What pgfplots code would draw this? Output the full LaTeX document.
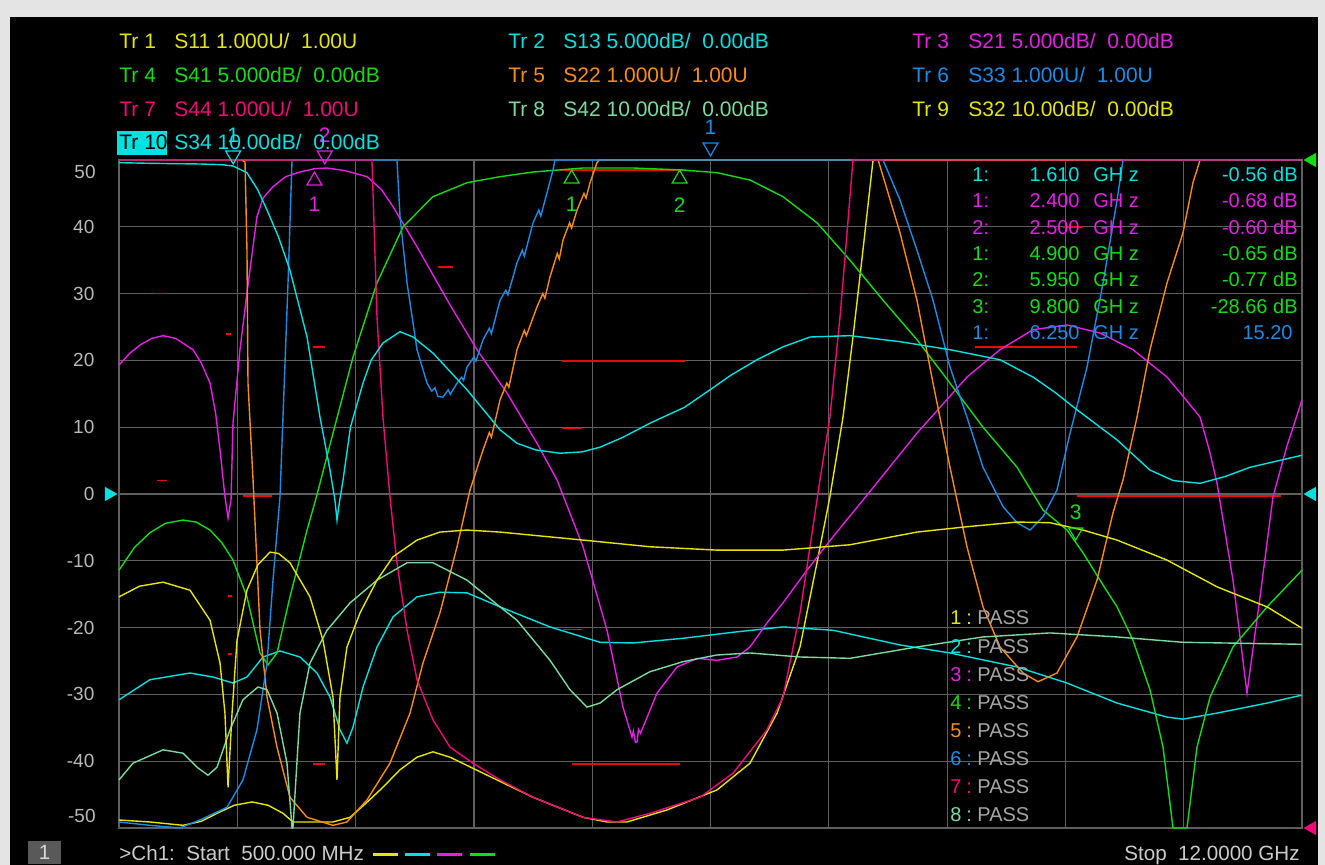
\documentclass[border=0pt]{standalone}
\usepackage{pgfplots}
\pgfplotsset{compat=1.18}
\usepackage{fontspec}
\setmainfont{Liberation Sans}
\definecolor{trY}{RGB}{230,230,0}
\definecolor{trC}{RGB}{0,225,225}
\definecolor{trM}{RGB}{230,30,230}
\definecolor{trG}{RGB}{20,220,20}
\definecolor{trO}{RGB}{250,140,20}
\definecolor{trB}{RGB}{25,140,230}
\definecolor{trP}{RGB}{240,10,120}
\definecolor{trL}{RGB}{120,220,160}
\definecolor{gridc}{RGB}{95,95,95}
\definecolor{ticktxt}{RGB}{185,185,185}
\definecolor{passtxt}{RGB}{165,165,165}
\definecolor{limred}{RGB}{235,10,10}
\definecolor{winbg}{RGB}{228,228,228}
\newcommand{\fs}[1]{\fontsize{#1}{#1}\selectfont}
\begin{document}
\begin{tikzpicture}
\path[use as bounding box] (0,0) rectangle (662.5pt,432.5pt);
\fill[winbg] (0,0) rectangle (662.5pt,432.5pt);
\fill[black] (5pt,0pt) rectangle (659pt,424pt);
\begin{axis}[
  at={(59.5pt,18.5pt)}, anchor=south west,
  scale only axis, width=591.5pt, height=334pt,
  xmin=0.5, xmax=12, ymin=-50, ymax=50,
  xtick={0.5,1.65,2.8,3.95,5.1,6.25,7.4,8.55,9.7,10.85,12},
  xticklabels={},
  ytick={-50,-40,-30,-20,-10,0,10,20,30,40,50},
  yticklabels={,-40,-30,-20,-10,0,10,20,30,40,},
  yticklabel style={text=ticktxt, font=\fs{9.5}, xshift=-8.8pt},
  major tick length=0pt,
  grid=major, major grid style={draw=gridc, line width=0.6pt},
  axis line style={draw=gridc, line width=0.7pt},
  clip=false,
  every axis plot/.append style={line width=0.7pt},
]
% limit lines
\addplot[limred, line width=0.85pt, unbounded coords=jump] coordinates {
 (0.85,30)(0.97,30) (1,nan) (1.54,24)(1.59,24) (1,nan) (2.39,22)(2.50,22) (1,nan)
 (3.60,34)(3.75,34) (1,nan) (0.87,2)(0.97,2) (1,nan) (1.71,-0.3)(1.99,-0.3) (1,nan)
 (1.56,-15.3)(1.60,-15.3) (1,nan) (1.56,-24)(1.60,-24) (1,nan) (2.39,-40.4)(2.50,-40.4) (1,nan)
 (4.79,48.5)(5.98,48.5) (1,nan) (7.20,30)(7.51,30) (1,nan) (4.81,19.9)(6.0,19.9) (1,nan)
 (4.81,9.8)(5.0,9.8) (1,nan) (4.82,-20.3)(5.0,-20.3) (1,nan) (4.90,-40.4)(5.95,-40.4) (1,nan)
 (8.82,22)(9.81,22) (1,nan) (9.81,-0.3)(11.8,-0.3) (1,nan) (9.68,40)(9.87,40)};
% Tr1 S11
\addplot[trY] coordinates {(0.5,-48.8)(0.80,-49.1)(1.122,-49.6)(1.30,-49.0)(1.453,-47.8)(1.62,-46.6)(1.793,-46.1)(1.95,-46.6)(2.094,-47.8)(2.191,-49.1)(2.580,-49.1)(2.746,-48.4)(2.90,-46.3)(3.066,-43.9)(3.23,-41.3)(3.397,-39.4)(3.552,-38.6)(3.718,-39.4)(4.039,-41.8)(4.525,-45.4)(5.011,-48.4)(5.244,-49.1)(5.438,-49.1)(5.827,-47.3)(6.313,-44.3)(6.634,-40.3)(6.897,-32.8)(7.120,-22.9)(7.285,-10.3)(7.411,-0.4)(7.538,11.5)(7.635,23.5)(7.732,36.5)(7.830,50)(12,50)};
% Tr2 S13
\addplot[trC] coordinates {(0.5,-30.8)(0.801,-27.8)(1.190,-26.8)(1.414,-27.4)(1.608,-28.3)(1.744,-27.4)(1.900,-24.4)(2.065,-23.5)(2.259,-24.4)(2.425,-26.8)(2.551,-30.4)(2.648,-35.3)(2.716,-37.3)(2.775,-34.9)(2.872,-28.9)(3.008,-22.9)(3.164,-18.4)(3.397,-15.4)(3.620,-14.7)(3.883,-14.8)(4.204,-16.9)(4.690,-19.9)(5.176,-22.2)(5.497,-22.3)(5.983,-21.6)(6.469,-20.7)(6.955,-19.9)(7.441,-20.4)(8.092,-22.6)(8.578,-23.8)(9.230,-25.9)(9.716,-28.3)(10.202,-31.3)(10.688,-33.4)(10.843,-33.7)(11.174,-32.8)(11.660,-31.3)(12.0,-30.1)};
% Tr3 S21
\addplot[trM] coordinates {(0.5,19.3)(0.60,21.0)(0.704,22.3)(0.82,23.3)(0.928,23.7)(1.05,23.3)(1.219,21.6)(1.30,19.6)(1.385,16.6)(1.44,12.0)(1.482,6.6)(1.510,2.5)(1.530,-0.4)(1.560,-3.6)(1.589,-0.9)(1.608,10.6)(1.676,21.6)(1.744,30.1)(1.841,41.5)(1.90,44.3)(1.997,46.0)(2.12,47.5)(2.259,48.2)(2.40,48.7)(2.522,48.8)(2.70,48.4)(2.911,47.5)(3.05,45.6)(3.164,43.0)(3.397,37.0)(3.718,28.3)(3.980,21.6)(4.272,15.1)(4.563,7.6)(4.758,2.1)(5.011,-7.9)(5.244,-20.4)(5.399,-31.9)(5.487,-36.4)(5.50,-35.5)(5.52,-37.2)(5.536,-37.1)(5.55,-35.2)(5.57,-35.8)(5.594,-34.9)(5.730,-29.8)(5.924,-25.9)(6.119,-24.6)(6.313,-24.9)(6.508,-24.4)(6.634,-22.9)(6.799,-19.3)(6.955,-16.3)(7.188,-11.4)(7.441,-6.4)(7.733,-0.9)(8.257,9.1)(8.743,17.5)(9.064,21.6)(9.385,24.6)(9.716,25.3)(10.036,24.1)(10.357,21.6)(10.688,17.5)(10.85,14.5)(11.009,11.5)(11.10,6.5)(11.174,1.6)(11.329,-12.9)(11.465,-29.8)(11.592,-15.4)(11.718,-0.4)(11.85,7.0)(12.0,14.1)};
% Tr4 S41
\addplot[trG] coordinates {(0.5,-11.4)(0.65,-8.0)(0.801,-5.8)(0.95,-4.4)(1.122,-3.9)(1.25,-4.2)(1.385,-5.4)(1.50,-7.3)(1.608,-9.9)(1.744,-15.4)(1.871,-23.8)(1.948,-25.6)(2.036,-23.8)(2.162,-15.4)(2.328,-5.4)(2.425,-0.1)(2.580,9.1)(2.775,20.5)(3.008,31.6)(3.261,40.0)(3.552,44.5)(3.883,46.6)(4.204,47.5)(4.525,48.2)(5.011,48.8)(5.497,48.8)(5.983,48.5)(6.313,48.1)(6.634,47.0)(6.955,44.5)(7.285,40.6)(7.606,35.0)(7.927,29.0)(8.257,23.1)(8.578,16.6)(8.899,10.0)(9.230,4.0)(9.482,-2.4)(9.716,-5.4)(9.871,-8.8)(10.036,-12.9)(10.202,-16.9)(10.357,-21.9)(10.522,-29.3)(10.649,-37.9)(10.746,-50)(10.882,-50)(10.979,-37.9)(11.106,-30.4)(11.329,-22.9)(11.660,-16.9)(12.0,-11.4)};
% Tr5 S22
\addplot[trO] coordinates {(1.69,50)(1.725,49.7)(1.744,36.5)(1.754,16.6)(1.803,2.1)(1.841,-10.3)(1.871,-20.4)(1.939,-30.4)(2.036,-37.9)(2.162,-45.4)(2.328,-48.4)(2.580,-49.6)(2.716,-49.1)(2.911,-45.8)(3.134,-40.3)(3.329,-32.8)(3.455,-25.3)(3.620,-17.8)(3.786,-7.9)(3.912,0.6)(4.039,6.6)(4.10,9.2)(4.12,8.5)(4.204,14.1)(4.27,16.6)(4.29,16.0)(4.369,21.6)(4.44,24.5)(4.46,23.7)(4.563,28.0)(4.62,30.0)(4.64,29.3)(4.690,32.5)(4.76,36.0)(4.78,35.2)(4.816,38.0)(4.88,40.6)(4.90,39.8)(4.952,42.5)(5.02,45.0)(5.04,44.3)(5.079,46.6)(5.147,49.6)(5.17,50)(7.88,50)(8.092,39.1)(8.257,29.0)(8.413,16.6)(8.578,4.0)(8.743,-7.9)(8.899,-16.9)(9.064,-22.9)(9.288,-26.8)(9.434,-28.1)(9.618,-26.8)(9.813,-21.4)(10.007,-12.9)(10.163,-2.8)(10.260,2.1)(10.396,11.5)(10.522,21.6)(10.688,31.6)(10.843,39.1)(10.940,46.6)(11.009,50)(12,50)};
% Tr6 S33
\addplot[trB] coordinates {(0.5,-49.1)(0.801,-49.6)(1.093,-50)(1.287,-48.8)(1.550,-46.9)(1.705,-42.8)(1.841,-35.3)(1.939,-25.3)(1.997,-12.9)(2.065,-0.4)(2.094,11.5)(2.143,31.6)(2.182,50)(3.202,50)(3.232,41.5)(3.300,31.6)(3.397,21.6)(3.494,16.6)(3.54,15.4)(3.572,15.9)(3.60,14.6)(3.650,14.5)(3.70,15.6)(3.72,14.9)(3.786,16.6)(3.83,17.5)(3.85,17.0)(3.883,19.0)(3.95,20.5)(3.97,19.9)(4.039,23.1)(4.10,24.8)(4.12,24.0)(4.204,29.0)(4.26,30.5)(4.28,29.8)(4.369,34.6)(4.42,36.5)(4.44,35.6)(4.525,40.6)(4.58,42.5)(4.60,41.6)(4.661,45.1)(4.719,48.5)(4.738,50)(7.927,50)(8.092,44.0)(8.257,36.5)(8.413,29.0)(8.578,19.0)(8.743,11.5)(8.899,4.0)(9.094,-1.9)(9.230,-4.3)(9.356,-5.4)(9.482,-3.4)(9.618,0.6)(9.745,9.1)(9.910,19.0)(10.066,31.6)(10.202,44.0)(10.260,50)(12,50)};
% Tr7 S44
\addplot[trP] coordinates {(0.5,50)(2.959,50)(3.008,26.5)(3.066,11.5)(3.134,-0.4)(3.202,-10.3)(3.300,-20.4)(3.397,-27.8)(3.552,-33.8)(3.718,-37.9)(3.941,-40.3)(4.204,-42.8)(4.525,-45.4)(5.011,-48.4)(5.341,-49.1)(5.662,-47.8)(6.148,-45.4)(6.469,-41.8)(6.799,-35.3)(6.955,-30.4)(7.120,-17.8)(7.217,-7.9)(7.314,2.1)(7.411,11.5)(7.509,26.5)(7.577,39.1)(7.635,50)(12,50)};
% Tr8 S42
\addplot[trL] coordinates {(0.5,-42.8)(0.636,-40.3)(0.928,-38.3)(1.122,-38.8)(1.258,-40.9)(1.365,-42.1)(1.453,-40.9)(1.579,-35.3)(1.705,-30.8)(1.851,-28.9)(1.939,-29.3)(2.036,-32.8)(2.133,-40.3)(2.182,-50)(2.191,-50)(2.259,-32.8)(2.357,-25.3)(2.522,-20.4)(2.746,-16.3)(3.008,-12.9)(3.300,-10.3)(3.552,-10.3)(3.883,-12.9)(4.204,-16.9)(4.369,-18.9)(4.690,-24.9)(4.884,-29.3)(5.049,-31.9)(5.176,-31.3)(5.341,-29.3)(5.662,-26.6)(5.983,-25.1)(6.313,-24.1)(6.634,-23.8)(7.120,-24.4)(7.606,-24.6)(8.257,-22.9)(8.899,-21.4)(9.550,-20.8)(10.202,-21.4)(10.843,-22.2)(12.0,-22.5)};
% Tr9 S32
\addplot[trY] coordinates {(0.5,-15.4)(0.70,-13.8)(0.928,-13.2)(1.190,-14.4)(1.385,-18.9)(1.482,-25.3)(1.530,-32.8)(1.560,-43.9)(1.599,-32.8)(1.647,-21.9)(1.744,-14.4)(1.85,-10.6)(1.968,-8.7)(2.05,-8.9)(2.162,-10.3)(2.357,-15.4)(2.483,-21.9)(2.580,-30.4)(2.619,-42.8)(2.648,-30.4)(2.716,-22.9)(2.843,-17.8)(3.008,-12.9)(3.164,-9.4)(3.397,-6.9)(3.620,-5.7)(3.883,-5.4)(4.204,-5.7)(5.011,-6.9)(5.662,-7.9)(6.313,-8.4)(6.955,-8.4)(7.606,-7.6)(8.257,-5.7)(8.743,-4.9)(9.230,-4.2)(9.550,-4.3)(9.871,-5.4)(10.202,-6.9)(10.688,-9.9)(11.174,-13.9)(11.660,-16.9)(12.0,-20.1)};
% Tr10 S34
\addplot[trC] coordinates {(0.5,49.6)(0.8,49.5)(1.287,49.4)(1.50,49.3)(1.608,49.1)(1.744,48.1)(1.85,45.5)(1.939,42.5)(2.05,38.5)(2.162,33.5)(2.328,23.5)(2.454,11.5)(2.551,3.6)(2.60,-1.0)(2.619,-3.9)(2.64,-1.5)(2.678,2.1)(2.75,10.0)(2.872,16.6)(2.95,20.0)(3.066,22.6)(3.232,24.3)(3.358,23.5)(3.552,21.1)(3.883,15.6)(4.204,9.6)(4.369,7.6)(4.55,6.6)(4.787,6.1)(5.0,6.3)(5.176,7.0)(5.4,8.5)(5.662,10.6)(6.0,13.0)(6.245,15.6)(6.45,17.8)(6.702,20.1)(6.95,22.0)(7.217,23.5)(7.606,23.7)(8.092,22.8)(8.578,21.6)(9.064,20.1)(9.385,17.5)(9.60,15.2)(9.813,12.6)(10.202,8.1)(10.52,3.6)(10.75,2.0)(11.009,1.6)(11.25,2.6)(11.495,4.0)(12.0,5.8)};
% markers
\addplot[only marks, mark=triangle, mark size=4.3pt, mark options={draw=trC, rotate=180, line width=0.6pt},
  point meta=explicit symbolic, nodes near coords,
  every node near coord/.style={anchor=center, yshift=10pt, text=trC, font=\fs{10.5}}] coordinates {(1.610,50.7)[1]};
\addplot[only marks, mark=triangle, mark size=4.3pt, mark options={draw=trM, rotate=180, line width=0.6pt},
  point meta=explicit symbolic, nodes near coords,
  every node near coord/.style={anchor=center, yshift=10pt, text=trM, font=\fs{10.5}}] coordinates {(2.500,50.7)[2]};
\addplot[only marks, mark=triangle, mark size=4.3pt, mark options={draw=trM, line width=0.6pt},
  point meta=explicit symbolic, nodes near coords,
  every node near coord/.style={anchor=center, yshift=-12pt, text=trM, font=\fs{10.5}}] coordinates {(2.400,46.9)[1]};
\addplot[only marks, mark=triangle, mark size=4.3pt, mark options={draw=trG, line width=0.6pt},
  point meta=explicit symbolic, nodes near coords,
  every node near coord/.style={anchor=center, yshift=-13pt, text=trG, font=\fs{10.5}}] coordinates {(4.900,47.2)[1] (5.950,47.2)[2]};
\addplot[only marks, mark=triangle, mark size=4.3pt, mark options={draw=trB, rotate=180, line width=0.6pt},
  point meta=explicit symbolic, nodes near coords,
  every node near coord/.style={anchor=center, yshift=10pt, text=trB, font=\fs{10.5}}] coordinates {(6.250,51.9)[1]};
\addplot[only marks, mark=triangle, mark size=4pt, mark options={draw=trG, rotate=180, line width=0.6pt},
  point meta=explicit symbolic, nodes near coords,
  every node near coord/.style={anchor=center, yshift=9.7pt, text=trG, font=\fs{10.5}}] coordinates {(9.800,-5.7)[3]};
% reference arrows
\addplot[only marks, mark=triangle*, mark size=3.5pt, mark options={fill=trG, draw=trG, rotate=90}] coordinates {(12.097,50)};
\addplot[only marks, mark=triangle*, mark size=3.5pt, mark options={fill=trC, draw=trC, rotate=90}] coordinates {(12.097,0)};
\addplot[only marks, mark=triangle*, mark size=3.5pt, mark options={fill=trP, draw=trP, rotate=90}] coordinates {(12.097,-50)};
\addplot[only marks, mark=triangle*, mark size=3.5pt, mark options={fill=trC, draw=trC, rotate=-90}] coordinates {(0.403,0)};
\end{axis}
\begin{scope}[shift={(0pt,432.5pt)}, x=0.5pt, y=-0.5pt]
% y labels at the extremes
\node[anchor=east, text=ticktxt, font=\fs{9.5}, inner sep=0pt] at (96,172) {50};
\node[anchor=east, text=ticktxt, font=\fs{9.5}, inner sep=0pt] at (96,816) {-50};
% header
\begin{scope}[every node/.style={anchor=base west, inner sep=0pt, font=\fs{10.5}}]
\node[text=trY] at (119,49) {Tr 1};  \node[text=trY] at (174,49) {S11 1.000U/\ \ 1.00U};
\node[text=trC] at (508,49) {Tr 2};  \node[text=trC] at (563,49) {S13 5.000dB/\ \ 0.00dB};
\node[text=trM] at (912,49) {Tr 3};  \node[text=trM] at (968,49) {S21 5.000dB/\ \ 0.00dB};
\node[text=trG] at (119,83) {Tr 4};  \node[text=trG] at (174,83) {S41 5.000dB/\ \ 0.00dB};
\node[text=trO] at (508,83) {Tr 5};  \node[text=trO] at (563,83) {S22 1.000U/\ \ 1.00U};
\node[text=trB] at (912,83) {Tr 6};  \node[text=trB] at (968,83) {S33 1.000U/\ \ 1.00U};
\node[text=trP] at (119,117) {Tr 7}; \node[text=trP] at (174,117) {S44 1.000U/\ \ 1.00U};
\node[text=trL] at (508,117) {Tr 8}; \node[text=trL] at (563,117) {S42 10.00dB/\ \ 0.00dB};
\node[text=trY] at (912,117) {Tr 9}; \node[text=trY] at (968,117) {S32 10.00dB/\ \ 0.00dB};
\fill[trC] (117,131) rectangle (167,155);
\node[text=black] at (119,150) {Tr 10}; \node[text=trC] at (174,150) {S34 10.00dB/\ \ 0.00dB};
\end{scope}
% marker table
\begin{scope}[every node/.style={inner sep=0pt, font=\fs{10}}]
\foreach \yy/\cc/\nn/\ff/\vv in {182/trC/1:/1.610/-0.56 dB, 208/trM/1:/2.400/-0.68 dB, 235/trM/2:/2.500/-0.60 dB,
   261/trG/1:/4.900/-0.65 dB, 287/trG/2:/5.950/-0.77 dB, 314/trG/3:/9.800/-28.66 dB}{
  \node[anchor=base west, text=\cc] at (972,\yy) {\nn};
  \node[anchor=base east, text=\cc] at (1080,\yy) {\ff};
  \node[anchor=base west, text=\cc] at (1093,\yy) {GH z};
  \node[anchor=base east, text=\cc] at (1298,\yy) {\vv};
}
\node[anchor=base west, text=trB] at (972,340) {1:};
\node[anchor=base east, text=trB] at (1080,340) {6.250};
\node[anchor=base west, text=trB] at (1093,340) {GH z};
\node[anchor=base east, text=trB] at (1293,340) {15.20};
\end{scope}
% limit test results
\begin{scope}[every node/.style={inner sep=0pt, font=\fs{10}, anchor=base west}]
\foreach \i/\cc in {1/trY,2/trC,3/trM,4/trG,5/trO,6/trB,7/trP,8/trL}{
  \pgfmathsetmacro{\yy}{625+(\i-1)*28.1}
  \node[text=\cc] at (950,\yy) {\i};
  \node[text=\cc] at (966,\yy) {:};
  \node[text=passtxt] at (977,\yy) {PASS};
}
\end{scope}
% channel status line
\fill[gray!70!black] (28,841) rectangle (61,864);
\node[text=white!85!black, font=\fs{10.3}, inner sep=0pt] at (44.5,852.5) {1};
\node[anchor=base west, text=white!80!black, font=\fs{10.3}, inner sep=0pt] at (119,861) {>Ch1:\ \ Start\ \ 500.000 MHz};
\draw[trY, line width=1.5pt] (373,855) -- (398,855);
\draw[trC, line width=1.5pt] (405,855) -- (430,855);
\draw[trM, line width=1.5pt] (437,855) -- (462,855);
\draw[trG, line width=1.5pt] (470,855) -- (495,855);
\node[anchor=base east, text=white!80!black, font=\fs{10.3}, inner sep=0pt] at (1300,861) {Stop\ \ 12.0000 GHz};
\end{scope}
\end{tikzpicture}
\end{document}
